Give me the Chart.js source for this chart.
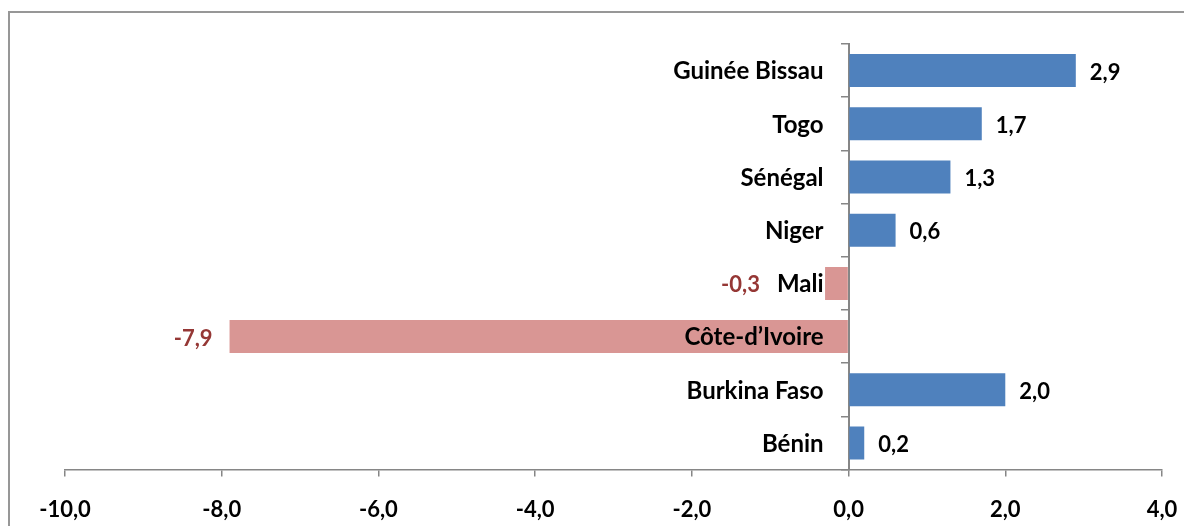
<!DOCTYPE html>
<html><head><meta charset="utf-8">
<script src="https://cdn.jsdelivr.net/npm/chart.js@4.4.1/dist/chart.umd.min.js"></script>
<style>html,body{margin:0;padding:0;background:#fff;}#wrap{width:1184px;height:526px;position:relative;}</style>
</head><body><div id="wrap"><canvas id="c" width="1184" height="526"></canvas></div>
<script>
const categories = ["Guinée Bissau", "Togo", "Sénégal", "Niger", "Mali", "Côte-d’Ivoire", "Burkina Faso", "Bénin"];
const values = [2.9, 1.7, 1.3, 0.6, -0.3, -7.9, 2.0, 0.2];
const xTicks = [-10, -8, -6, -4, -2, 0, 2, 4];

const FONT = "Lato";
const NUM_SIZE = 22;
const CAT_SIZE = 24;
const fmt = v => v.toFixed(1).replace('.', ',');

const framePlugin = {
  id: 'frame',
  beforeDraw(chart) {
    const ctx = chart.ctx;
    ctx.save();
    ctx.fillStyle = '#fff';
    ctx.fillRect(0, 0, chart.width, chart.height);
    ctx.strokeStyle = '#979797';
    ctx.lineWidth = 2;
    ctx.beginPath();
    ctx.moveTo(9, chart.height + 5);
    ctx.lineTo(9, 12);
    ctx.lineTo(chart.width + 5, 12);
    ctx.stroke();
    ctx.restore();
  }
};

const labelPlugin = {
  id: 'vlabels',
  afterDraw(chart) {
    const ctx = chart.ctx;
    const meta = chart.getDatasetMeta(0);
    const ys = chart.scales.y;
    const axisX = chart.scales.x.getPixelForValue(0);
    const catGap = 25;
    ctx.save();
    ctx.textBaseline = 'middle';
    ctx.font = 'bold ' + CAT_SIZE + 'px ' + FONT;
    ctx.fillStyle = '#000';
    ctx.textAlign = 'right';
    categories.forEach((c, i) => {
      ctx.fillText(c, axisX - catGap, ys.getPixelForValue(i) + 1);
    });
    meta.data.forEach((bar, i) => {
      const v = values[i];
      const txt = fmt(v);
      if (v >= 0) {
        ctx.font = 'bold ' + NUM_SIZE + 'px ' + FONT;
        ctx.fillStyle = '#000';
        ctx.textAlign = 'left';
        ctx.fillText(txt, bar.x + 14, bar.y + 2);
      } else {
        ctx.font = 'bold ' + CAT_SIZE + 'px ' + FONT;
        const catW = ctx.measureText(categories[i]).width;
        const catLeft = axisX - catGap - catW;
        const right = Math.min(bar.x, catLeft) - 17;
        ctx.font = 'bold ' + NUM_SIZE + 'px ' + FONT;
        ctx.fillStyle = '#953735';
        ctx.textAlign = 'right';
        ctx.fillText(txt, right, bar.y + 2);
      }
    });
    ctx.restore();
  }
};

new Chart(document.getElementById('c'), {
  type: 'bar',
  data: {
    labels: categories,
    datasets: [{
      data: values,
      backgroundColor: values.map(v => v < 0 ? '#D99694' : '#4F81BD'),
      borderWidth: 0,
      barPercentage: 0.62,
      categoryPercentage: 1.0
    }]
  },
  options: {
    indexAxis: 'y',
    responsive: false,
    animation: false,
    devicePixelRatio: 1,
    layout: { padding: { left: 65, right: 22, top: 44, bottom: -17 } },
    plugins: { legend: { display: false }, tooltip: { enabled: false } },
    scales: {
      x: {
        type: 'linear',
        min: -10, max: 4,
        afterBuildTicks(scale) { scale.ticks = xTicks.map(v => ({ value: v })); },
        afterFit(scale) { scale.paddingLeft = 0; scale.paddingRight = 0; },
        grid: { drawOnChartArea: false, drawTicks: true, tickLength: 7, color: '#868686', lineWidth: 1.5 },
        border: { display: true, color: '#868686', width: 1.5 },
        ticks: {
          color: '#000',
          font: { family: FONT, size: NUM_SIZE, weight: 'bold' },
          padding: 20,
          maxRotation: 0,
          autoSkip: false,
          callback: v => fmt(v)
        }
      },
      y: {
        position: { x: 0 },
        grid: { drawOnChartArea: false, drawTicks: true, tickLength: 7, color: '#868686', lineWidth: 1.5, offset: true },
        border: { display: true, color: '#868686', width: 2 },
        ticks: { display: false }
      }
    }
  },
  plugins: [framePlugin, labelPlugin]
});
</script></body></html>
